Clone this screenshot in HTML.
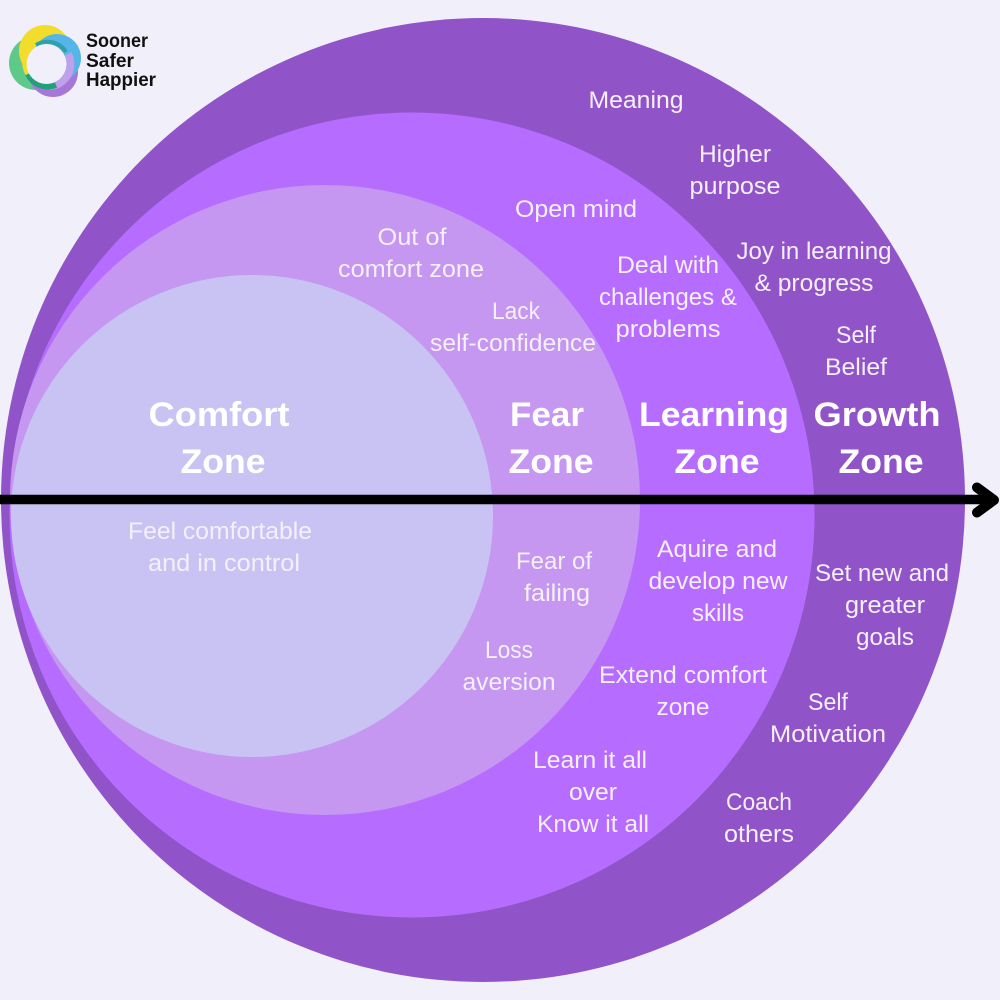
<!DOCTYPE html>
<html>
<head>
<meta charset="utf-8">
<style>
html,body{margin:0;padding:0;background:#f1f0fa;}
svg{display:block;}
text{font-family:"Liberation Sans",sans-serif;fill:#f5effc;text-anchor:middle;font-size:24px;}
.b{font-weight:bold;font-size:34px;fill:#fff;}
.l{font-weight:bold;font-size:19px;fill:#111;text-anchor:start;}
</style>
</head>
<body>
<svg width="1000" height="1000" viewBox="0 0 1000 1000" xmlns="http://www.w3.org/2000/svg">
<rect width="1000" height="1000" fill="#f1f0fa"/>
<circle cx="483" cy="500" r="482" fill="#9154c8"/>
<circle cx="412" cy="515" r="402.500" fill="#b66dff"/>
<circle cx="325" cy="500" r="315" fill="#c597f0"/>
<circle cx="252" cy="516" r="241" fill="#c9c3f4"/>

<circle cx="36" cy="63" r="27" fill="#5fc98a"/>
<circle cx="53" cy="72" r="25" fill="#a777d8"/>
<circle cx="45" cy="51" r="26" fill="#f2dd2c"/>
<circle cx="57" cy="58" r="24" fill="#55b4e8"/>
<path d="M68 54A22 22 0 0 1 50 86" fill="none" stroke="#bfa0ea" stroke-width="8"/>
<path d="M33 46A22 22 0 0 0 29 74" fill="none" stroke="#f2dd2c" stroke-width="7"/>
<path d="M28 74A22 22 0 0 0 56 85" fill="none" stroke="#22a07a" stroke-width="6"/>
<path d="M36 45A22 22 0 0 1 66 52" fill="none" stroke="#2f9fa8" stroke-width="4"/>
<circle cx="46.500" cy="64" r="20" fill="#f1f0fa"/>

<text class="l" x="86" y="47" textLength="62" lengthAdjust="spacingAndGlyphs">Sooner</text>
<text class="l" x="86" y="67" textLength="48" lengthAdjust="spacingAndGlyphs">Safer</text>
<text class="l" x="86" y="86" textLength="70" lengthAdjust="spacingAndGlyphs">Happier</text>

<text x="636" y="108" textLength="95" lengthAdjust="spacingAndGlyphs">Meaning</text>
<text x="735" y="162" textLength="72" lengthAdjust="spacingAndGlyphs">Higher</text>
<text x="735" y="194" textLength="91" lengthAdjust="spacingAndGlyphs">purpose</text>
<text x="576" y="217" textLength="122" lengthAdjust="spacingAndGlyphs">Open mind</text>
<text x="412" y="245" textLength="69" lengthAdjust="spacingAndGlyphs">Out of</text>
<text x="411" y="277" textLength="146" lengthAdjust="spacingAndGlyphs">comfort zone</text>
<text x="516" y="319" textLength="48" lengthAdjust="spacingAndGlyphs">Lack</text>
<text x="513" y="351" textLength="166" lengthAdjust="spacingAndGlyphs">self-confidence</text>
<text x="668" y="273" textLength="102" lengthAdjust="spacingAndGlyphs">Deal with</text>
<text x="668" y="305" textLength="138" lengthAdjust="spacingAndGlyphs">challenges &amp;</text>
<text x="668" y="337" textLength="105" lengthAdjust="spacingAndGlyphs">problems</text>
<text x="814" y="259" textLength="155" lengthAdjust="spacingAndGlyphs">Joy in learning</text>
<text x="814" y="291" textLength="119" lengthAdjust="spacingAndGlyphs">&amp; progress</text>
<text x="856" y="343" textLength="40" lengthAdjust="spacingAndGlyphs">Self</text>
<text x="856" y="375" textLength="62" lengthAdjust="spacingAndGlyphs">Belief</text>

<text class="b" x="219" y="426" textLength="141" lengthAdjust="spacingAndGlyphs">Comfort</text>
<text class="b" x="223" y="473" textLength="85" lengthAdjust="spacingAndGlyphs">Zone</text>
<text class="b" x="547" y="426" textLength="74" lengthAdjust="spacingAndGlyphs">Fear</text>
<text class="b" x="551" y="473" textLength="85" lengthAdjust="spacingAndGlyphs">Zone</text>
<text class="b" x="714" y="426" textLength="150" lengthAdjust="spacingAndGlyphs">Learning</text>
<text class="b" x="717" y="473" textLength="85" lengthAdjust="spacingAndGlyphs">Zone</text>
<text class="b" x="877" y="426" textLength="127" lengthAdjust="spacingAndGlyphs">Growth</text>
<text class="b" x="881" y="473" textLength="85" lengthAdjust="spacingAndGlyphs">Zone</text>

<text x="220" y="539" textLength="184" lengthAdjust="spacingAndGlyphs">Feel comfortable</text>
<text x="224" y="571" textLength="152" lengthAdjust="spacingAndGlyphs">and in control</text>
<text x="554" y="569" textLength="76" lengthAdjust="spacingAndGlyphs">Fear of</text>
<text x="557" y="601" textLength="66" lengthAdjust="spacingAndGlyphs">failing</text>
<text x="509" y="658" textLength="48" lengthAdjust="spacingAndGlyphs">Loss</text>
<text x="509" y="690" textLength="93" lengthAdjust="spacingAndGlyphs">aversion</text>
<text x="717" y="557" textLength="120" lengthAdjust="spacingAndGlyphs">Aquire and</text>
<text x="718" y="589" textLength="139" lengthAdjust="spacingAndGlyphs">develop new</text>
<text x="718" y="621" textLength="52" lengthAdjust="spacingAndGlyphs">skills</text>
<text x="683" y="683" textLength="168" lengthAdjust="spacingAndGlyphs">Extend comfort</text>
<text x="683" y="715" textLength="53" lengthAdjust="spacingAndGlyphs">zone</text>
<text x="590" y="768" textLength="114" lengthAdjust="spacingAndGlyphs">Learn it all</text>
<text x="593" y="800" textLength="48" lengthAdjust="spacingAndGlyphs">over</text>
<text x="593" y="832" textLength="112" lengthAdjust="spacingAndGlyphs">Know it all</text>
<text x="882" y="581" textLength="134" lengthAdjust="spacingAndGlyphs">Set new and</text>
<text x="885" y="613" textLength="80" lengthAdjust="spacingAndGlyphs">greater</text>
<text x="885" y="645" textLength="58" lengthAdjust="spacingAndGlyphs">goals</text>
<text x="828" y="710" textLength="40" lengthAdjust="spacingAndGlyphs">Self</text>
<text x="828" y="742" textLength="116" lengthAdjust="spacingAndGlyphs">Motivation</text>
<text x="759" y="810" textLength="66" lengthAdjust="spacingAndGlyphs">Coach</text>
<text x="759" y="842" textLength="70" lengthAdjust="spacingAndGlyphs">others</text>

<line x1="0" y1="499.500" x2="992" y2="499.500" stroke="#000" stroke-width="9.500"/>
<path d="M977 487.500L994 500L977 512.500" fill="none" stroke="#000" stroke-width="10" stroke-linecap="round" stroke-linejoin="round"/>
</svg>
</body>
</html>
